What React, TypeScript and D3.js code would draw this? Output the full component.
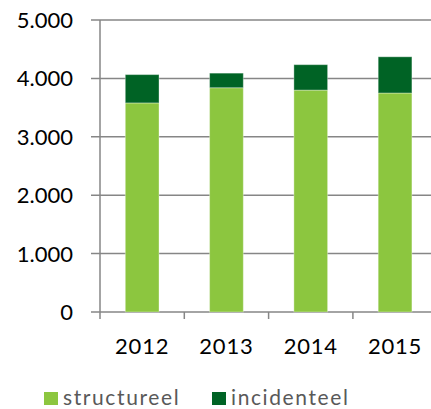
import React from "react";
import * as d3 from "d3";

const years = ["2012", "2013", "2014", "2015"];
const structureel = [3580, 3840, 3800, 3750];
const incidenteel = [485, 250, 435, 620];
const yTicks = [0, 1000, 2000, 3000, 4000, 5000];
const seriesNames = ["structureel", "incidenteel"];
const colors = ["#8CC63F", "#006325"];

const width = 431;
const height = 409;

const App = () => {
  const margins = { top: 20, left: 100, bottom: 312 };
  const step = 84.3;

  const xScale = d3
    .scaleBand()
    .domain(years)
    .range([margins.left, margins.left + step * years.length])
    .paddingInner(0.6)
    .paddingOuter(0.3);

  const yScale = d3
    .scaleLinear()
    .domain([0, 5000])
    .range([margins.bottom, margins.top]);

  const fmt = (v) => d3.format(",")(v).replace(/,/g, ".");

  const rows = years.map((y, i) => ({
    year: y,
    structureel: structureel[i],
    incidenteel: incidenteel[i],
  }));
  const stacked = d3.stack().keys(seriesNames)(rows);

  const right = margins.left + step * years.length;
  const axisColor = "#868686";

  return (
    <svg
      width={width}
      height={height}
      style={{ position: "absolute", left: 0, top: 0, fontFamily: "Lato" }}
    >
      {yTicks.map((t) => (
        <g key={t}>
          <line
            x1={91}
            x2={right}
            y1={yScale(t)}
            y2={yScale(t)}
            stroke={axisColor}
            strokeWidth={1.5}
          />
          <text
            x={73}
            y={yScale(t)}
            dy="0.36em"
            textAnchor="end"
            fontSize={22}
            fill="#000"
          >
            {fmt(t)}
          </text>
        </g>
      ))}
      <line
        x1={margins.left}
        x2={margins.left}
        y1={margins.top}
        y2={margins.bottom + 7}
        stroke={axisColor}
        strokeWidth={1.5}
      />
      {years.map((y, i) => (
        <line
          key={y}
          x1={margins.left + step * (i + 1)}
          x2={margins.left + step * (i + 1)}
          y1={margins.bottom}
          y2={margins.bottom + 7}
          stroke={axisColor}
          strokeWidth={1.5}
        />
      ))}
      {stacked.map((s, si) => (
        <g key={s.key}>
          {s.map((d, i) => (
            <rect
              key={years[i]}
              x={xScale(years[i])}
              width={xScale.bandwidth()}
              y={yScale(d[1])}
              height={yScale(d[0]) - yScale(d[1])}
              fill={colors[si]}
              stroke="rgba(255,255,255,0.35)"
              strokeWidth={1}
            />
          ))}
        </g>
      ))}
      {years.map((y) => (
        <text
          key={y}
          x={xScale(y) + xScale.bandwidth() / 2}
          y={354}
          textAnchor="middle"
          fontSize={22}
          letterSpacing={0.8}
          fill="#000"
        >
          {y}
        </text>
      ))}
      {seriesNames.map((n, i) => {
        const lx = i === 0 ? 44 : 212;
        return (
          <g key={n}>
            <rect x={lx} y={392} width={14} height={13} fill={colors[i]} />
            <text
              x={lx + 19}
              y={405}
              fontSize={21}
              letterSpacing={1.6}
              fill="#595959"
            >
              {n}
            </text>
          </g>
        );
      })}
    </svg>
  );
};

export default App;
